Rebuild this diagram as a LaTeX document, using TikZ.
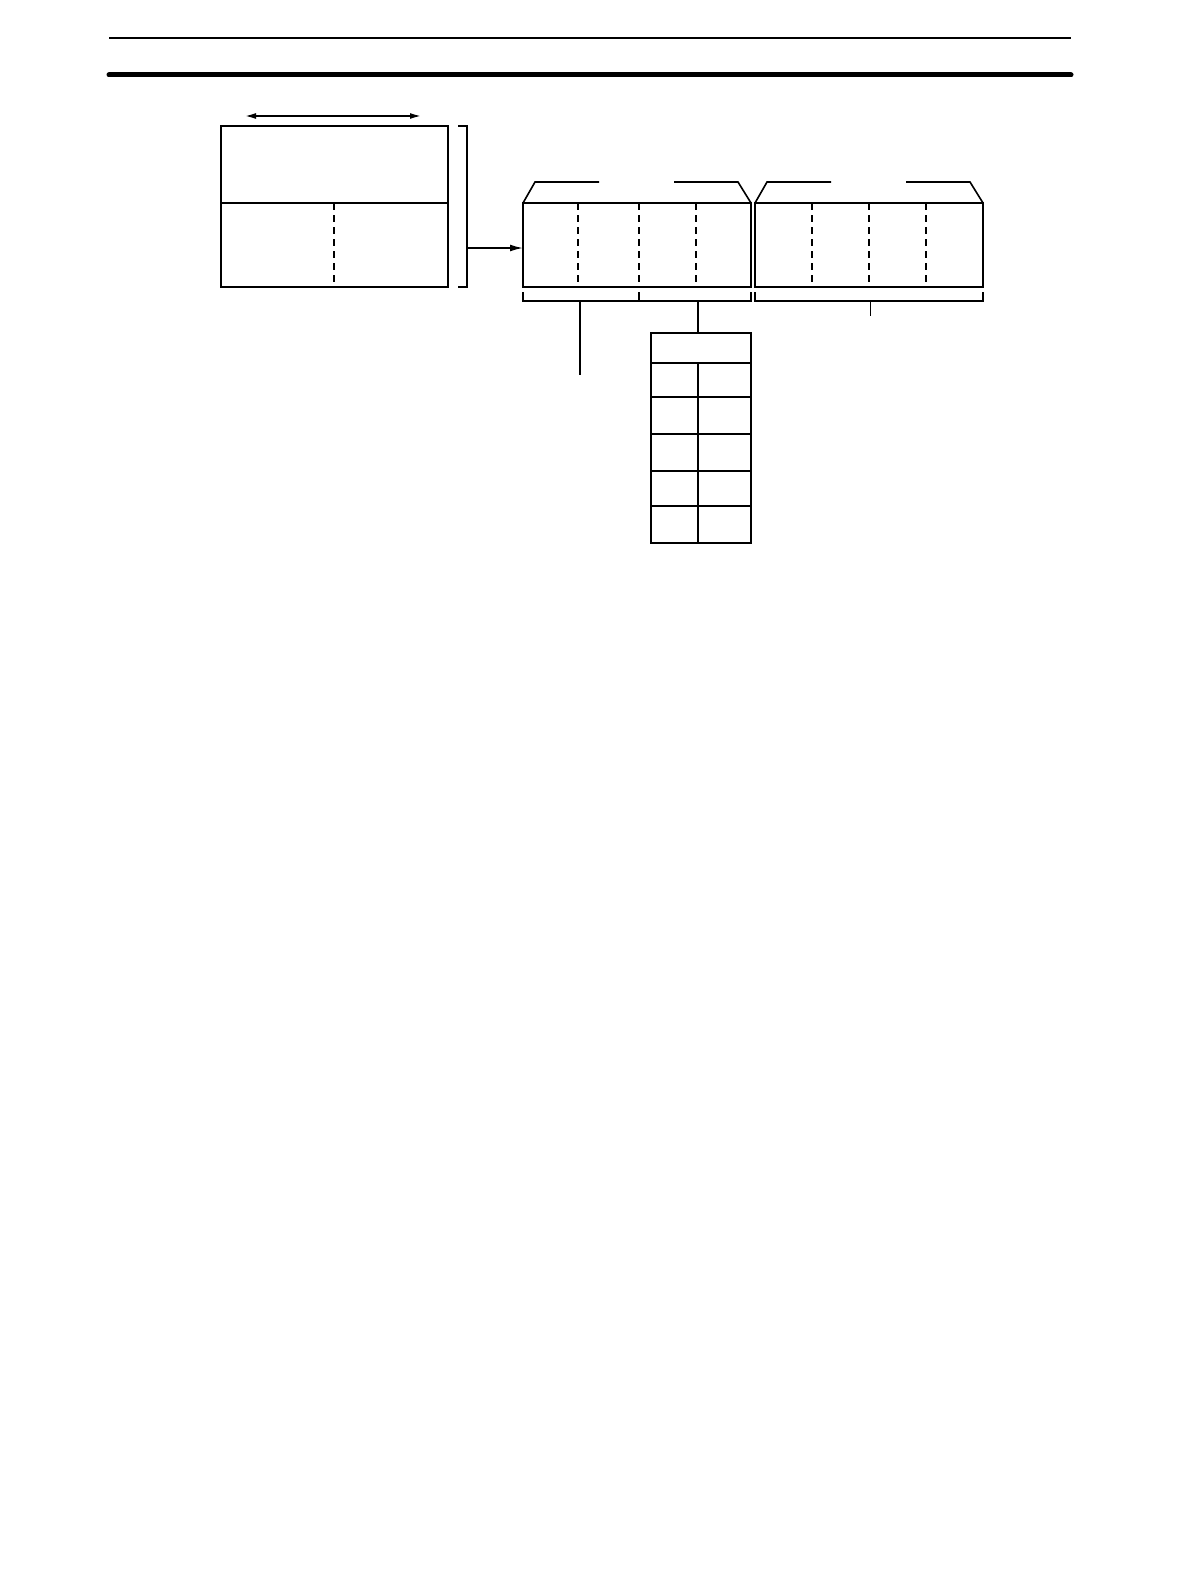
\documentclass[tikz,border=0pt]{standalone}
\usepackage{tikz}
\usetikzlibrary{arrows,arrows.meta,positioning,calc}
\tikzstyle{line} = [line width=1.6pt]
\tikzstyle{dashline} = [line width=1.3pt, dash pattern=on 7pt off 5pt]
\tikzstyle{thinline} = [line width=0.9pt]
\tikzstyle{tip} = [{Latex[length=11pt,width=6pt]}]
\begin{document}
\begin{tikzpicture}[x=1pt, y=-1pt]
      \useasboundingbox (0,0) rectangle (1192,1584);
      % page rules
      \draw[line] (109,38) -- (1071,38);
      \draw[line width=5pt, line cap=round] (109,75) -- (1071,75);
      % left box
      \coordinate (lb) at (221,126);
      \coordinate (lbr) at (448,287);
      \draw[line] (lb) rectangle (lbr);
      \draw[line] (221,203) -- (448,203);
      \draw[dashline] (334,203) -- (334,287);
      \coordinate (wl) at (245,116);
      \coordinate (wr) at (421,116);
      \draw[line, {Latex[length=11pt,width=6pt]}-{Latex[length=11pt,width=6pt]}] (wl) -- (wr);
      % bracket and arrow
      \draw[line] (458,126) -- (467,126) -- (467,287) -- (458,287);
      \coordinate (arrstart) at (467,248);
      \coordinate (boxAin) at (523,248);
      \draw[line, -{Latex[length=13pt,width=7pt]}] (arrstart) -- (boxAin);
      % boxes A and B
      \foreach \x/\a/\b/\c in {523/578/639/696, 755/812/869/926}{
        \draw[line] (\x,203) rectangle ++(228,84);
        \draw[dashline] (\a,203) -- (\a,287);
        \draw[dashline] (\b,203) -- (\b,287);
        \draw[dashline] (\c,203) -- (\c,287);
        \draw[line] (\x,203) -- ++(12,-21) -- ++(64,0);
        \draw[line] ($(\x,182)+(151,0)$) -- ++(64,0) -- ++(13,21);
        \draw[line] (\x,292) -- ++(0,9) -- ++(228,0) -- ++(0,-9);
      }
      \draw[line] (639,292) -- (639,301);
      \draw[thinline] (870,301) -- (870,316);
      \coordinate (braceA) at (580,301);
      \coordinate (leadA) at (580,375);
      \draw[line] (braceA) -- (leadA);
      % table
      \coordinate (braceB) at (698,301);
      \coordinate (tabtop) at (698,333);
      \draw[line] (braceB) -- (tabtop);
      \draw[line] (651,333) rectangle (751,543);
      \foreach \y in {363,397,434,471,506}{
        \draw[line] (651,\y) -- (751,\y);
      }
      \draw[line] (698,363) -- (698,543);
\end{tikzpicture}
\end{document}
